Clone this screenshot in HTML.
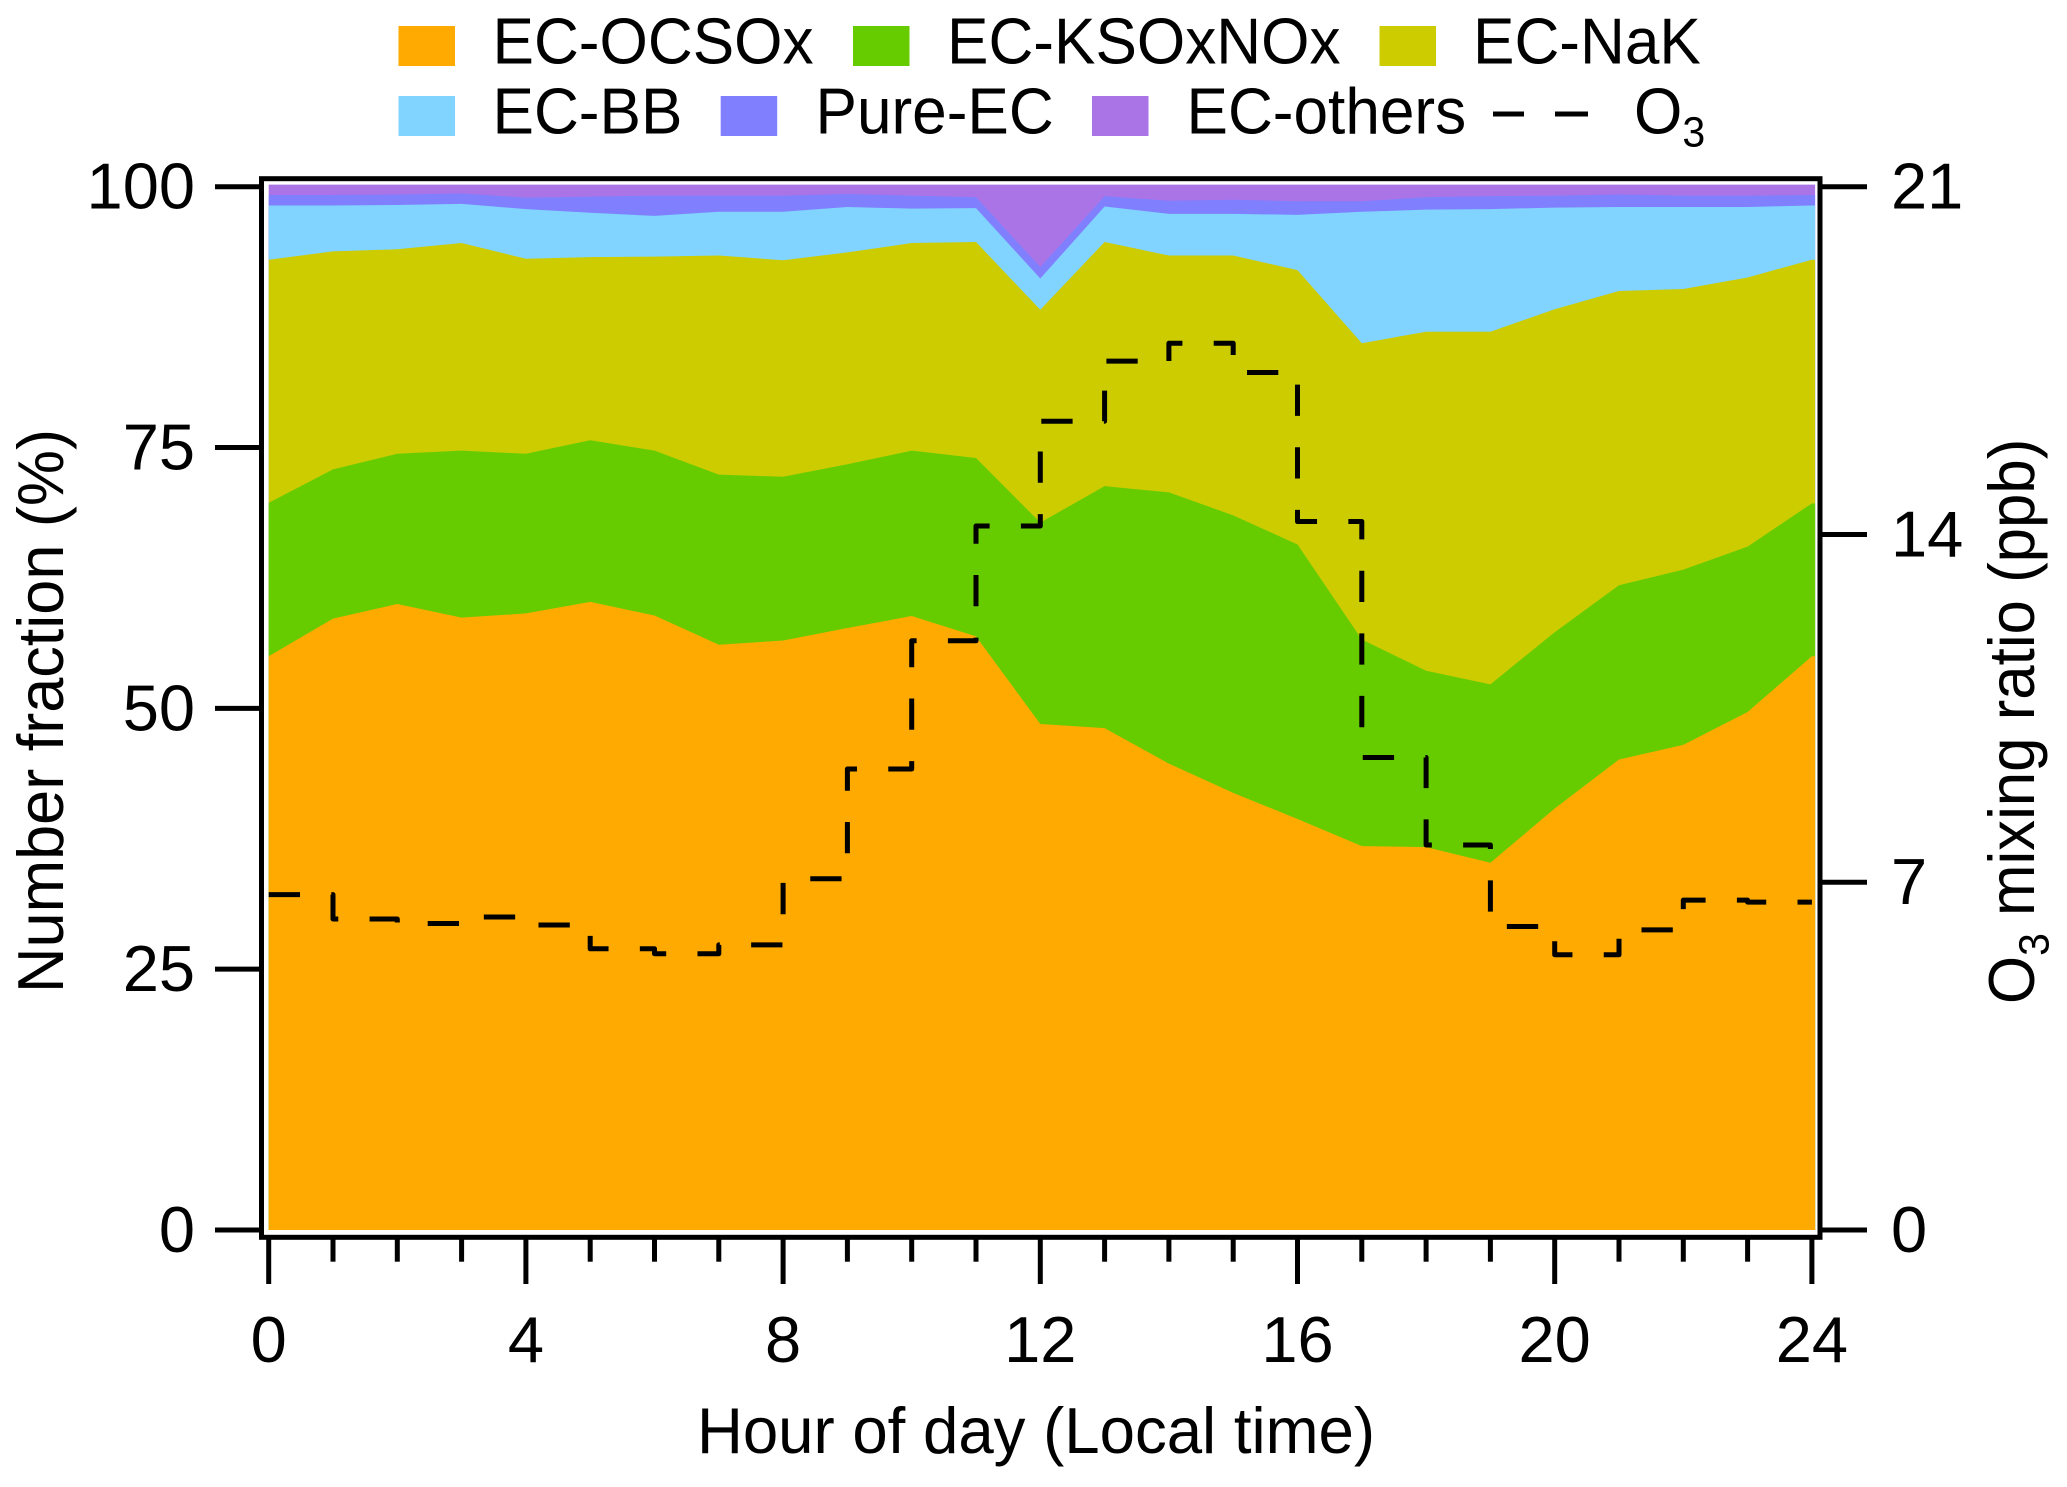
<!DOCTYPE html>
<html lang="en">
<head>
<meta charset="utf-8">
<title>EC particle number fraction and O3 diurnal variation</title>
<style>
  html, body { margin: 0; padding: 0; background: #ffffff; }
  body { width: 2067px; height: 1487px; overflow: hidden; }
  svg { display: block; }
  text { font-family: "Liberation Sans", Arial, sans-serif; fill: #000000; font-size: 65px; }
</style>
</head>
<body>
<svg id="chart" xmlns="http://www.w3.org/2000/svg" width="2067" height="1487" viewBox="0 0 2067 1487">
  <rect x="0" y="0" width="2067" height="1487" fill="#ffffff"/>
  <g id="areas"></g>
  <path id="o3line" fill="none" stroke="#000000" stroke-width="5" stroke-dasharray="31.3 31.3" stroke-linejoin="round"/>
  <rect x="261.5" y="178.7" width="1558.5" height="1058.6" fill="none" stroke="#000000" stroke-width="5"/>
  <g id="axes"></g>

  <text transform="translate(1036 1453) scale(0.978 1)" text-anchor="middle">Hour of day (Local time)</text>
  <text transform="translate(63 993) rotate(-90) scale(0.97 1)">Number fraction (%)</text>
  <text transform="translate(2034 1004) rotate(-90) scale(0.951 1)">O<tspan dy="14.7" font-size="43">3</tspan><tspan dy="-14.7"> mixing ratio (ppb)</tspan></text>

  <g>
    <g>
      <rect x="398.5" y="26" width="56.5" height="40" fill="#FFAA00"/>
      <text transform="translate(492.5 63.5) scale(0.956 1)">EC-OCSOx</text>
    </g>
    <g>
      <rect x="853" y="26" width="56.5" height="40" fill="#66CC00"/>
      <text transform="translate(947 63.5) scale(0.956 1)">EC-KSOxNOx</text>
    </g>
    <g>
      <rect x="1379.5" y="26" width="56.5" height="40" fill="#CCCC00"/>
      <text transform="translate(1473 63.5) scale(0.956 1)">EC-NaK</text>
    </g>
    <g>
      <rect x="398.5" y="96" width="56.5" height="40" fill="#80D4FF"/>
      <text transform="translate(492.5 133.3) scale(0.956 1)">EC-BB</text>
    </g>
    <g>
      <rect x="720.7" y="96" width="56.5" height="40" fill="#8080FF"/>
      <text transform="translate(815.5 133.3) scale(0.956 1)">Pure-EC</text>
    </g>
    <g>
      <rect x="1092" y="96" width="56.5" height="40" fill="#AA73E6"/>
      <text transform="translate(1186.5 133.3) scale(0.956 1)">EC-others</text>
    </g>
    <g>
      <line x1="1493" y1="114" x2="1524" y2="114" stroke="#000000" stroke-width="5"/>
      <line x1="1555" y1="114" x2="1588" y2="114" stroke="#000000" stroke-width="5"/>
      <text transform="translate(1634 133.3) scale(0.956 1)">O<tspan dy="13.4" font-size="43">3</tspan></text>
    </g>
  </g>
</svg>

<script>
// Hours of day for the stacked areas (0..24)
const hours = [0,1,2,3,4,5,6,7,8,9,10,11,12,13,14,15,16,17,18,19,20,21,22,23,24];

// Cumulative stack tops (%)
const ecOcsoxTop  = [55.0,58.6,60.0,58.7,59.1,60.2,58.9,56.1,56.5,57.7,58.85,56.9,48.5,48.1,44.7,41.9,39.4,36.8,36.7,35.2,40.4,45.1,46.5,49.65,55.0];
const ecKsoxnoxTop = [69.7,72.9,74.4,74.7,74.4,75.7,74.7,72.4,72.2,73.4,74.7,74.0,67.8,71.3,70.7,68.5,65.7,56.6,53.6,52.3,57.3,61.8,63.3,65.5,69.65];
const ecNakTop    = [93.0,93.8,94.0,94.6,93.1,93.25,93.3,93.4,92.95,93.7,94.6,94.7,88.2,94.7,93.4,93.4,92.0,85.0,86.1,86.1,88.25,90.0,90.2,91.3,93.0];
const ecBbTop     = [98.2,98.2,98.25,98.35,97.85,97.5,97.2,97.6,97.6,98.05,97.9,97.95,91.2,98.1,97.4,97.4,97.3,97.6,97.8,97.85,98.0,98.05,98.05,98.05,98.2];
const pureEcTop   = [99.2,99.2,99.25,99.35,98.95,99.05,99.15,99.15,99.15,99.3,99.15,99.0,92.3,99.1,98.65,98.75,98.6,98.6,99.0,99.1,99.15,99.25,99.15,99.15,99.2];
const ecOthersTop = [100.2,100.2,100.2,100.2,100.2,100.2,100.2,100.2,100.2,100.2,100.2,100.2,100.2,100.2,100.2,100.2,100.2,100.2,100.2,100.2,100.2,100.2,100.2,100.2,100.2];

// O3 hourly mean (ppb), each value holds from hour h to h+1
const o3Values = [6.75,6.26,6.17,6.30,6.14,5.66,5.56,5.74,7.07,9.28,11.86,14.17,16.28,17.49,17.85,17.26,14.26,9.51,7.75,6.11,5.54,6.04,6.64,6.60];

// Tick labels
const xMajorTicks = [0,4,8,12,16,20,24];
const xMinorTicks = [1,2,3,5,6,7,9,10,11,13,14,15,17,18,19,21,22,23];
const yTicks = [0,25,50,75,100];
const y2Ticks = [0,7,14,21];

const SVGNS = 'http://www.w3.org/2000/svg';

function xScale(h) { return 268.7 + h * 64.3; }
function yScale(p) { return 1230 - p * 10.433; }
function y2Scale(v) { return 1230 - v * 49.68; }

// Areas, painted largest stack first
const areasGroup = document.getElementById('areas');

function areaPath(tops) {
  let d = 'M' + xScale(hours[0]) + ' ' + yScale(0);
  for (let i = 0; i < hours.length; i++) {
    d += ' L' + xScale(hours[i]).toFixed(2) + ' ' + yScale(tops[i]).toFixed(2);
  }
  const lastX = xScale(hours[hours.length - 1]) + 3.2;
  d += ' L' + lastX.toFixed(2) + ' ' + yScale(tops[tops.length - 1]).toFixed(2);
  d += ' L' + lastX.toFixed(2) + ' ' + yScale(0) + ' Z';
  return d;
}

const areaOthers = document.createElementNS(SVGNS, 'path');
areaOthers.setAttribute('d', areaPath(ecOthersTop));
areaOthers.setAttribute('fill', '#AA73E6');


areasGroup.appendChild(areaOthers);

const areaPure = document.createElementNS(SVGNS, 'path');
areaPure.setAttribute('d', areaPath(pureEcTop));
areaPure.setAttribute('fill', '#8080FF');


areasGroup.appendChild(areaPure);

const areaBb = document.createElementNS(SVGNS, 'path');
areaBb.setAttribute('d', areaPath(ecBbTop));
areaBb.setAttribute('fill', '#80D4FF');


areasGroup.appendChild(areaBb);

const areaNak = document.createElementNS(SVGNS, 'path');
areaNak.setAttribute('d', areaPath(ecNakTop));
areaNak.setAttribute('fill', '#CCCC00');


areasGroup.appendChild(areaNak);

const areaKsox = document.createElementNS(SVGNS, 'path');
areaKsox.setAttribute('d', areaPath(ecKsoxnoxTop));
areaKsox.setAttribute('fill', '#66CC00');


areasGroup.appendChild(areaKsox);

const areaOcsox = document.createElementNS(SVGNS, 'path');
areaOcsox.setAttribute('d', areaPath(ecOcsoxTop));
areaOcsox.setAttribute('fill', '#FFAA00');


areasGroup.appendChild(areaOcsox);

// O3 step line
let o3d = 'M' + xScale(0) + ' ' + y2Scale(o3Values[0]).toFixed(2);
for (let i = 0; i < o3Values.length; i++) {
  o3d += ' V' + y2Scale(o3Values[i]).toFixed(2) + ' H' + xScale(i + 1).toFixed(2);
}
document.getElementById('o3line').setAttribute('d', o3d);

// Axes
const axesGroup = document.getElementById('axes');

function makeLine(x1, y1, x2, y2) {
  const l = document.createElementNS(SVGNS, 'line');
  l.setAttribute('x1', x1);
  l.setAttribute('y1', y1);
  l.setAttribute('x2', x2);
  l.setAttribute('y2', y2);
  l.setAttribute('stroke', '#000000');
  l.setAttribute('stroke-width', '5');
  axesGroup.appendChild(l);
  return l;
}

function makeLabel(x, y, anchor, str) {
  const t = document.createElementNS(SVGNS, 'text');
  t.setAttribute('x', x);
  t.setAttribute('y', y);
  t.setAttribute('text-anchor', anchor);
  t.textContent = str;
  axesGroup.appendChild(t);
  return t;
}

xMajorTicks.forEach(function (h) {
  const tick = makeLine(xScale(h), 1239, xScale(h), 1284);
  
  
  const label = makeLabel(xScale(h), 1362, 'middle', String(h));
  
  
});

xMinorTicks.forEach(function (h) {
  const tick = makeLine(xScale(h), 1239, xScale(h), 1261.7);
  
  
});

yTicks.forEach(function (v) {
  const tick = makeLine(215, yScale(v), 261, yScale(v));
  
  
  const label = makeLabel(195, yScale(v) + 22, 'end', String(v));
  
  
});

y2Ticks.forEach(function (v) {
  const tick = makeLine(1820, y2Scale(v), 1867, y2Scale(v));
  
  
  const label = makeLabel(1891, y2Scale(v) + 22, 'start', String(v));
  
  
});
</script>
</body>
</html>
